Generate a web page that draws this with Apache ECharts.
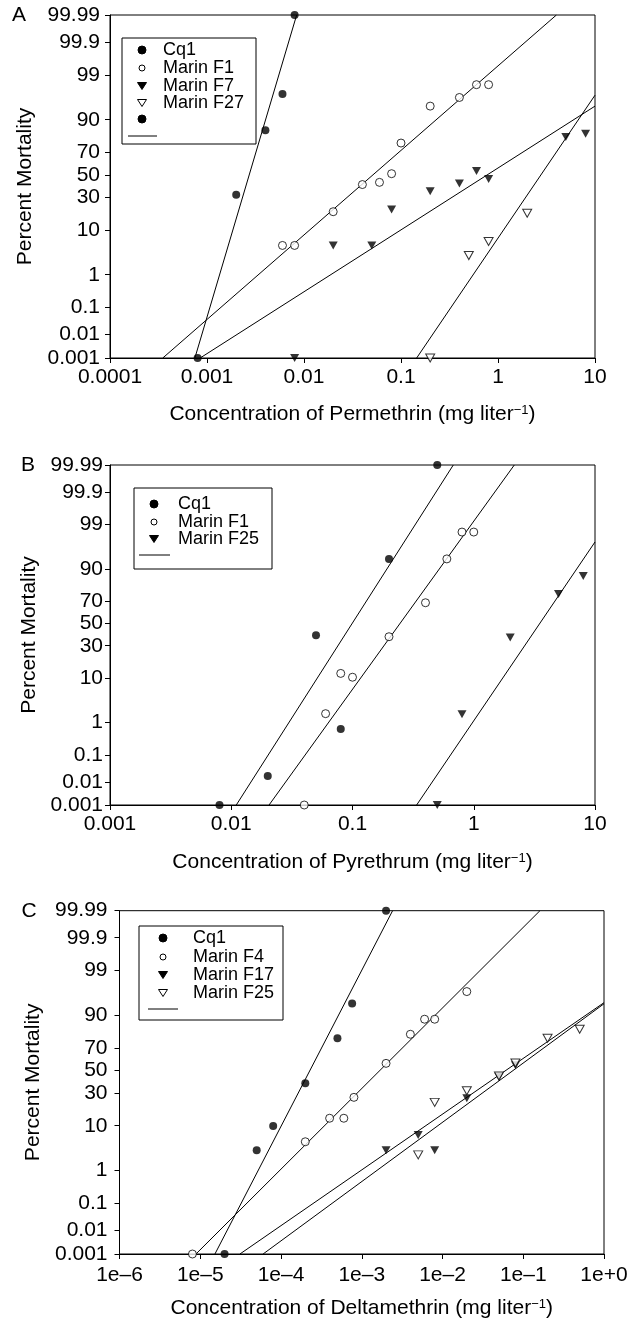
<!DOCTYPE html>
<html>
<head>
<meta charset="utf-8">
<script src="https://cdn.jsdelivr.net/npm/echarts@6/dist/echarts.min.js"></script>
<style>
  html, body { margin: 0; padding: 0; background: #fff; }
  #main { width: 639px; height: 1321px; }
</style>
</head>
<body>
<div id="main"></div>
<script>
// y ticks (percent mortality, probit scale)
const yTicks = [0.001, 0.01, 0.1, 1, 10, 30, 50, 70, 90, 99, 99.9, 99.99];
const yTickLabels = ['0.001', '0.01', '0.1', '1', '10', '30', '50', '70', '90', '99', '99.9', '99.99'];

// x tick labels, one per decade
const aXLabels = ['0.0001', '0.001', '0.01', '0.1', '1', '10'];
const bXLabels = ['0.001', '0.01', '0.1', '1', '10'];
const cXLabels = ['1e–6', '1e–5', '1e–4', '1e–3', '1e–2', '1e–1', '1e+0'];

// panel A - permethrin
const aCq1X = [0.0008, 0.002, 0.004, 0.006, 0.008];
const aCq1Y = [0.001, 32, 85, 97, 99.99];
const aF1X = [0.006, 0.008, 0.02, 0.04, 0.06, 0.08, 0.1, 0.2, 0.4, 0.6, 0.8];
const aF1Y = [5, 5, 19.5, 41, 43, 51, 77, 94.5, 96.4, 98.2, 98.2];
const aF7X = [0.008, 0.02, 0.05, 0.08, 0.2, 0.4, 0.6, 0.8, 5, 8];
const aF7Y = [0.001, 5, 5, 21, 35, 42, 53.5, 46, 81, 83];
const aF27X = [0.2, 0.5, 0.8, 2];
const aF27Y = [0.001, 3, 6, 18.5];
const aCq1FitX = [0.00075, 0.0084], aCq1FitY = [0.001, 99.99];
const aF1FitX = [0.00035, 4.0], aF1FitY = [0.001, 99.99];
const aF7FitX = [0.00085, 10], aF7FitY = [0.001, 94.5];
const aF27FitX = [0.145, 10], aF27FitY = [0.001, 96.8];

// panel B - pyrethrum
const bCq1X = [0.008, 0.02, 0.05, 0.08, 0.2, 0.5];
const bCq1Y = [0.001, 0.017, 39, 0.66, 93.5, 99.99];
const bF1X = [0.04, 0.06, 0.08, 0.1, 0.2, 0.4, 0.6, 0.8, 1.0];
const bF1Y = [0.001, 1.7, 12, 10.3, 37.7, 68.6, 93.5, 98.4, 98.4];
const bF25X = [0.5, 0.8, 2, 5, 8];
const bF25Y = [0.001, 1.64, 37, 75.5, 86.7];
const bCq1FitX = [0.011, 0.678], bCq1FitY = [0.001, 99.99];
const bF1FitX = [0.0205, 2.16], bF1FitY = [0.001, 99.99];
const bF25FitX = [0.338, 10], bF25FitY = [0.001, 97.2];

// panel C - deltamethrin
const cCq1X = [2e-5, 5e-5, 8e-5, 2e-4, 5e-4, 7.6e-4, 2e-3];
const cCq1Y = [0.001, 3.2, 9.9, 38.4, 77.4, 94.1, 99.99];
const cF4X = [8e-6, 2e-4, 4e-4, 6e-4, 8e-4, 2e-3, 4e-3, 6e-3, 8e-3, 2e-2];
const cF4Y = [0.001, 4.9, 13.4, 13.4, 26.7, 56.7, 80.1, 88.4, 88.4, 96.7];
const cF17X = [0.002, 0.005, 0.008, 0.02, 0.05, 0.08];
const cF17Y = [3.2, 6.7, 3.2, 26, 44, 55];
const cF25X = [0.005, 0.008, 0.02, 0.05, 0.08, 0.2, 0.5];
const cF25Y = [2.5, 23, 32, 45, 57, 77.4, 83.2];
const cCq1FitX = [1.52e-5, 0.00241], cCq1FitY = [0.001, 99.99];
const cF4FitX = [8.85e-6, 0.161], cF4FitY = [0.001, 99.99];
const cF17FitX = [3.1e-5, 1], cF17FitY = [0.001, 94.3];
const cF25FitX = [6.0e-5, 1], cF25FitY = [0.001, 94.0];

// inverse normal cdf (Acklam), percent -> probit
function probit(pct) {
    const p = pct / 100;
    const a = [-3.969683028665376e+01, 2.209460984245205e+02, -2.759285104469687e+02, 1.383577518672690e+02, -3.066479806614716e+01, 2.506628277459239e+00];
    const b = [-5.447609879822406e+01, 1.615858368580409e+02, -1.556989798598866e+02, 6.680131188771972e+01, -1.328068155288572e+01];
    const c = [-7.784894002430293e-03, -3.223964580411365e-01, -2.400758277161838e+00, -2.549732539343734e+00, 4.374664141464968e+00, 2.938163982698783e+00];
    const d = [7.784695709041462e-03, 3.224671290700398e-01, 2.445134137142996e+00, 3.754408661907416e+00];
    const pl = 0.02425;
    let q, r;
    if (p < pl) {
        q = Math.sqrt(-2 * Math.log(p));
        return (((((c[0]*q+c[1])*q+c[2])*q+c[3])*q+c[4])*q+c[5]) / ((((d[0]*q+d[1])*q+d[2])*q+d[3])*q+1);
    }
    if (p <= 1 - pl) {
        q = p - 0.5; r = q * q;
        return (((((a[0]*r+a[1])*r+a[2])*r+a[3])*r+a[4])*r+a[5])*q / (((((b[0]*r+b[1])*r+b[2])*r+b[3])*r+b[4])*r+1);
    }
    q = Math.sqrt(-2 * Math.log(1 - p));
    return -(((((c[0]*q+c[1])*q+c[2])*q+c[3])*q+c[4])*q+c[5]) / ((((d[0]*q+d[1])*q+d[2])*q+d[3])*q+1);
}

const FONT = 'Liberation Sans, Arial, Helvetica, sans-serif';
const yMin = probit(yTicks[0]);
const yMax = probit(yTicks[yTicks.length - 1]);
const yTickVals = yTicks.map(probit);

const styles = {
    fcircle: { symbol: 'circle', symbolSize: 8, symbolRotate: 0, itemStyle: { color: '#000' } },
    ocircle: { symbol: 'circle', symbolSize: 8, symbolRotate: 0, itemStyle: { color: '#fff', borderColor: '#000', borderWidth: 1 } },
    ftri: { symbol: 'triangle', symbolSize: [9, 8], symbolRotate: 180, itemStyle: { color: '#000' } },
    otri: { symbol: 'triangle', symbolSize: [9, 8], symbolRotate: 180, itemStyle: { color: '#fff', borderColor: '#000', borderWidth: 1 } }
};

function pts(xs, ys) {
    return xs.map((x, i) => [x, probit(ys[i])]);
}

function scatter(name, g, xs, ys, st) {
    return Object.assign({
        name: name, type: 'scatter', xAxisIndex: g, yAxisIndex: g,
        data: pts(xs, ys), clip: false, z: 3
    }, styles[st]);
}

function fit(name, g, xs, ys) {
    return {
        name: name, type: 'line', xAxisIndex: g, yAxisIndex: g,
        data: pts(xs, ys), symbol: 'none', z: 2, silent: true,
        lineStyle: { color: '#000', width: 1 }
    };
}

function xAxis(g, min, max, labels, title, margin, gap) {
    const e0 = Math.round(Math.log10(min));
    return {
        type: 'log', logBase: 10, gridIndex: g, min: min, max: max,
        axisLine: { onZero: false, lineStyle: { color: '#000', width: 1 } },
        axisTick: { show: true, length: 5, lineStyle: { color: '#000' } },
        axisLabel: {
            color: '#000', fontSize: 21, fontFamily: FONT, margin: margin,
            formatter: v => labels[Math.round(Math.log10(v)) - e0]
        },
        splitLine: { show: false },
        name: title + ' (mg liter{sup|−1})', nameLocation: 'middle', nameGap: gap,
        nameTextStyle: {
            color: '#000', fontSize: 21, fontFamily: FONT,
            rich: { sup: { fontSize: 13, fontFamily: FONT, color: '#000', verticalAlign: 'top' } }
        }
    };
}

function yAxis(g, margin, gap) {
    return {
        type: 'value', gridIndex: g, min: yMin, max: yMax,
        axisLine: { show: true, onZero: false, lineStyle: { color: '#000', width: 1 } },
        axisTick: { show: true, length: 5, customValues: yTickVals, lineStyle: { color: '#000' } },
        axisLabel: {
            color: '#000', fontSize: 21, fontFamily: FONT, margin: margin,
            customValues: yTickVals,
            formatter: v => {
                let best = 0;
                yTickVals.forEach((t, i) => { if (Math.abs(t - v) < Math.abs(yTickVals[best] - v)) best = i; });
                return yTickLabels[best];
            }
        },
        splitLine: { show: false },
        name: 'Percent Mortality', nameLocation: 'middle', nameGap: gap,
        nameTextStyle: { color: '#000', fontSize: 21, fontFamily: FONT }
    };
}

// legend boxes drawn as graphic elements
function legendBox(box, symX, textX, rows, lineRow, lineX) {
    const els = [{
        type: 'rect', shape: { x: box[0], y: box[1], width: box[2], height: box[3] },
        style: { fill: '#fff', stroke: '#000', lineWidth: 1 }, z: 10
    }];
    rows.forEach(r => {
        const y = r.y;
        if (r.sym === 'fcircle' || r.sym === 'ocircle') {
            const filled = r.sym === 'fcircle';
            els.push({
                type: 'circle', shape: { cx: symX, cy: y, r: filled ? 4 : 3 },
                style: { fill: filled ? '#000' : '#fff', stroke: '#000', lineWidth: 1 }, z: 11
            });
        } else {
            const filled = r.sym === 'ftri';
            els.push({
                type: 'polygon', shape: { points: [[symX - 4.5, y - 3.5], [symX + 4.5, y - 3.5], [symX, y + 3.5]] },
                style: { fill: filled ? '#000' : '#fff', stroke: '#000', lineWidth: 1 }, z: 11
            });
        }
        if (r.name) {
            els.push({
                type: 'text', x: textX, y: y,
                style: { text: r.name, fill: '#000', font: '18px ' + FONT, textVerticalAlign: 'middle', textAlign: 'left' }, z: 11
            });
        }
    });
    els.push({
        type: 'line', shape: { x1: lineX[0], y1: lineRow, x2: lineX[1], y2: lineRow },
        style: { stroke: '#000', lineWidth: 1 }, z: 11
    });
    return els;
}

function letter(t, x, y) {
    return { type: 'text', x: x, y: y, style: { text: t, fill: '#000', font: '21px ' + FONT, textAlign: 'center', textVerticalAlign: 'middle' }, z: 11 };
}

const chart = echarts.init(document.getElementById('main'), null, { renderer: 'canvas' });

const option = {
    animation: false,
    backgroundColor: '#fff',
    textStyle: { fontFamily: FONT },
    grid: [
        { left: 110, top: 15, width: 485, height: 343, show: true, borderColor: '#000', borderWidth: 1, backgroundColor: 'transparent' },
        { left: 110, top: 465, width: 485, height: 340, show: true, borderColor: '#000', borderWidth: 1, backgroundColor: 'transparent' },
        { left: 119.5, top: 910.7, width: 484.5, height: 343.3, show: true, borderColor: '#000', borderWidth: 1, backgroundColor: 'transparent' }
    ],
    xAxis: [
        xAxis(0, 1e-4, 10, aXLabels, 'Concentration of Permethrin', 9, 46),
        xAxis(1, 1e-3, 10, bXLabels, 'Concentration of Pyrethrum', 9, 47),
        xAxis(2, 1e-6, 1, cXLabels, 'Concentration of Deltamethrin', 11, 44)
    ],
    yAxis: [
        yAxis(0, 10, 74),
        yAxis(1, 7, 65),
        yAxis(2, 12, 74)
    ],
    series: [
        fit('Cq1 fit', 0, aCq1FitX, aCq1FitY),
        fit('Marin F1 fit', 0, aF1FitX, aF1FitY),
        fit('Marin F7 fit', 0, aF7FitX, aF7FitY),
        fit('Marin F27 fit', 0, aF27FitX, aF27FitY),
        scatter('Cq1', 0, aCq1X, aCq1Y, 'fcircle'),
        scatter('Marin F1', 0, aF1X, aF1Y, 'ocircle'),
        scatter('Marin F7', 0, aF7X, aF7Y, 'ftri'),
        scatter('Marin F27', 0, aF27X, aF27Y, 'otri'),

        fit('Cq1 fit', 1, bCq1FitX, bCq1FitY),
        fit('Marin F1 fit', 1, bF1FitX, bF1FitY),
        fit('Marin F25 fit', 1, bF25FitX, bF25FitY),
        scatter('Cq1', 1, bCq1X, bCq1Y, 'fcircle'),
        scatter('Marin F1', 1, bF1X, bF1Y, 'ocircle'),
        scatter('Marin F25', 1, bF25X, bF25Y, 'ftri'),

        fit('Cq1 fit', 2, cCq1FitX, cCq1FitY),
        fit('Marin F4 fit', 2, cF4FitX, cF4FitY),
        fit('Marin F17 fit', 2, cF17FitX, cF17FitY),
        fit('Marin F25 fit', 2, cF25FitX, cF25FitY),
        scatter('Cq1', 2, cCq1X, cCq1Y, 'fcircle'),
        scatter('Marin F4', 2, cF4X, cF4Y, 'ocircle'),
        scatter('Marin F17', 2, cF17X, cF17Y, 'ftri'),
        scatter('Marin F25', 2, cF25X, cF25Y, 'otri')
    ],
    graphic: [].concat(
        [letter('A', 19, 15), letter('B', 28, 465), letter('C', 29, 911)],
        legendBox([122, 38, 134, 106], 142, 163, [
            { name: 'Cq1', sym: 'fcircle', y: 50 },
            { name: 'Marin F1', sym: 'ocircle', y: 68 },
            { name: 'Marin F7', sym: 'ftri', y: 86 },
            { name: 'Marin F27', sym: 'otri', y: 103 },
            { name: '', sym: 'fcircle', y: 119 }
        ], 136, [128, 157]),
        legendBox([134, 488, 138, 81], 154, 178, [
            { name: 'Cq1', sym: 'fcircle', y: 504 },
            { name: 'Marin F1', sym: 'ocircle', y: 522 },
            { name: 'Marin F25', sym: 'ftri', y: 539 }
        ], 555, [139, 170]),
        legendBox([139, 926, 144, 94], 163, 193, [
            { name: 'Cq1', sym: 'fcircle', y: 938 },
            { name: 'Marin F4', sym: 'ocircle', y: 957 },
            { name: 'Marin F17', sym: 'ftri', y: 975 },
            { name: 'Marin F25', sym: 'otri', y: 993 }
        ], 1009, [148, 178])
    )
};

chart.setOption(option);
</script>
</body>
</html>
